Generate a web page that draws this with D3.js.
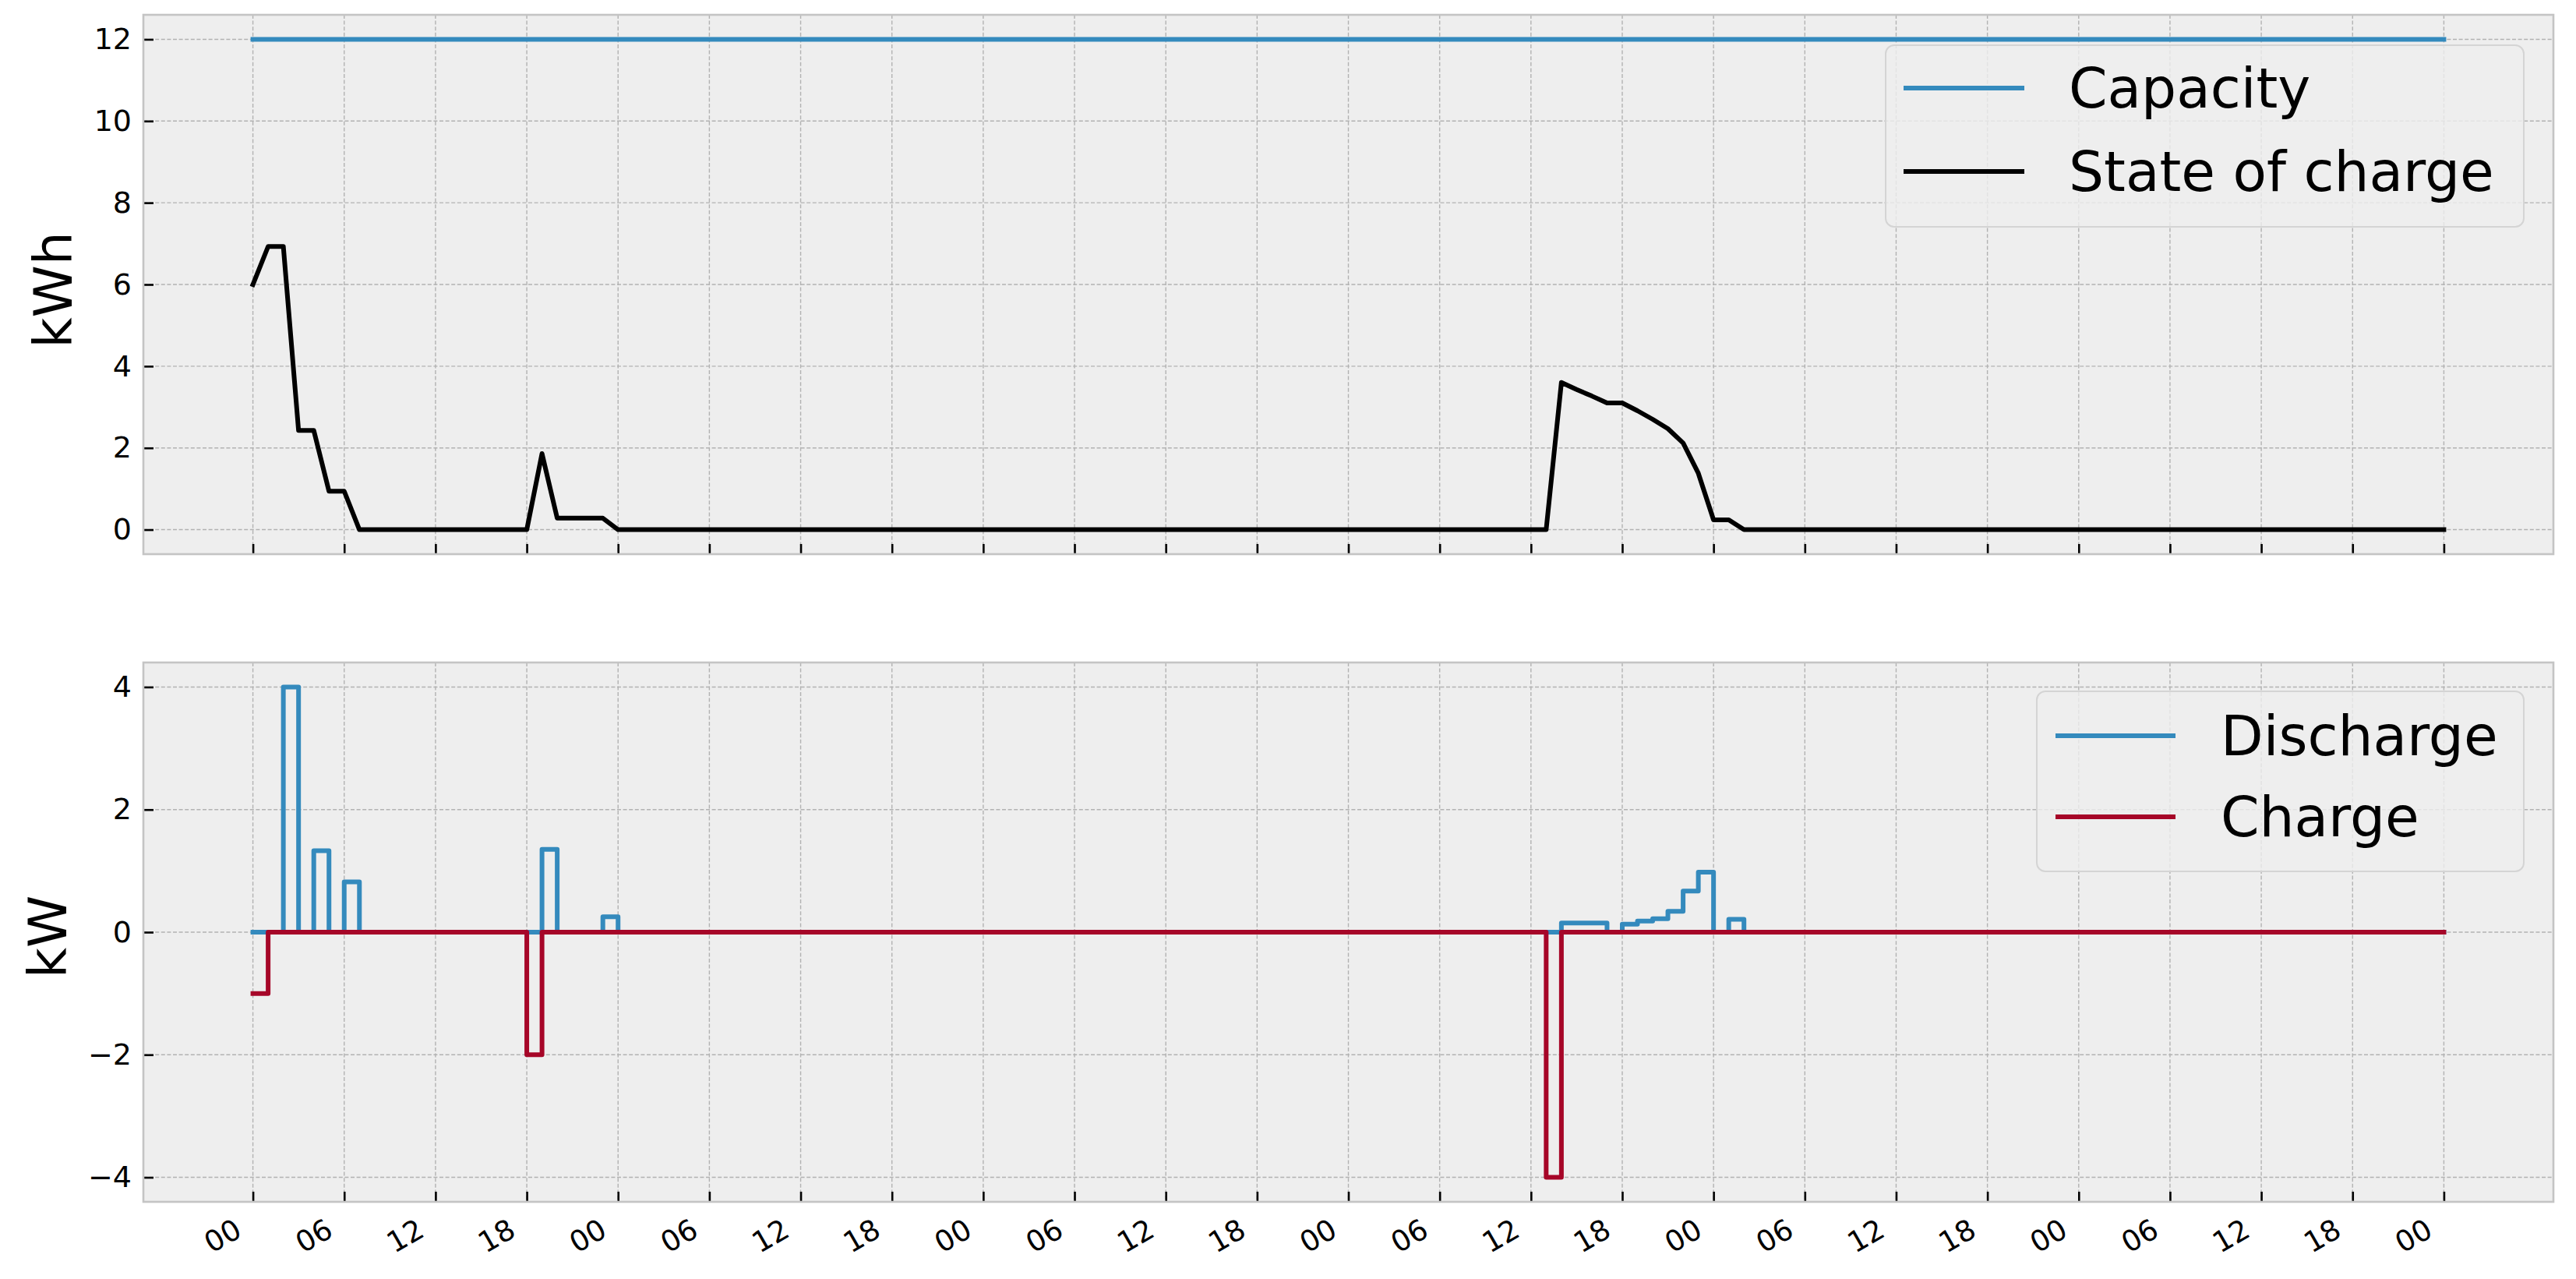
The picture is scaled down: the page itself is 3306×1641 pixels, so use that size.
<!DOCTYPE html>
<html><head><meta charset="utf-8">
<script src="https://cdn.jsdelivr.net/npm/d3@7"></script>
<style>body{margin:0;background:#fff}svg{display:block}</style>
</head><body><svg id="c" width="3306" height="1641"></svg>
<script>
// ---------- data (hourly, hours 0..144 over six days) ----------
const xTickHours  = [0,6,12,18,24,30,36,42,48,54,60,66,72,78,84,90,96,102,108,114,120,126,132,138,144];
const xTickLabels = ["00","06","12","18","00","06","12","18","00","06","12","18","00","06","12","18","00","06","12","18","00","06","12","18","00"];

const topTicks      = [0,2,4,6,8,10,12];
const topTickLabels = ["0","2","4","6","8","10","12"];
const botTicks      = [-4,-2,0,2,4];
const botTickLabels = ["\u22124","\u22122","0","2","4"];

const capacityKWh = 12;

// state of charge (kWh) at each hour
const stateOfCharge = [
  6.0,6.93,6.93,2.43,2.43,0.94,0.94,0,0,0,0,0,0,0,0,0,0,0,0,1.86,0.28,0.28,0.28,0.28,
  0,0,0,0,0,0,0,0,0,0,0,0,0,0,0,0,0,0,0,0,0,0,0,0,
  0,0,0,0,0,0,0,0,0,0,0,0,0,0,0,0,0,0,0,0,0,0,0,0,
  0,0,0,0,0,0,0,0,0,0,0,0,0,0,3.60,3.43,3.27,3.10,3.10,2.91,2.70,2.47,2.12,1.38,
  0.24,0.24,0,0,0,0,0,0,0,0,0,0,0,0,0,0,0,0,0,0,0,0,0,0,
  0,0,0,0,0,0,0,0,0,0,0,0,0,0,0,0,0,0,0,0,0,0,0,0,
  0
];
// discharge power (kW) for each hour interval
const discharge = [
  0,0,4.0,0,1.33,0,0.82,0,0,0,0,0,0,0,0,0,0,0,0,1.35,0,0,0,0.25,
  0,0,0,0,0,0,0,0,0,0,0,0,0,0,0,0,0,0,0,0,0,0,0,0,
  0,0,0,0,0,0,0,0,0,0,0,0,0,0,0,0,0,0,0,0,0,0,0,0,
  0,0,0,0,0,0,0,0,0,0,0,0,0,0,0.15,0.15,0.15,0,0.13,0.18,0.22,0.34,0.67,0.98,
  0,0.21,0,0,0,0,0,0,0,0,0,0,0,0,0,0,0,0,0,0,0,0,0,0,
  0,0,0,0,0,0,0,0,0,0,0,0,0,0,0,0,0,0,0,0,0,0,0,0,
  0
];
// charge power (kW, negative) for each hour interval
const charge = [
  -1,0,0,0,0,0,0,0,0,0,0,0,0,0,0,0,0,0,-2,0,0,0,0,0,
  0,0,0,0,0,0,0,0,0,0,0,0,0,0,0,0,0,0,0,0,0,0,0,0,
  0,0,0,0,0,0,0,0,0,0,0,0,0,0,0,0,0,0,0,0,0,0,0,0,
  0,0,0,0,0,0,0,0,0,0,0,0,0,-4,0,0,0,0,0,0,0,0,0,0,
  0,0,0,0,0,0,0,0,0,0,0,0,0,0,0,0,0,0,0,0,0,0,0,0,
  0,0,0,0,0,0,0,0,0,0,0,0,0,0,0,0,0,0,0,0,0,0,0,0,
  0
];

// ---------- layout ----------
const FONT = "'DejaVu Sans', sans-serif";
const BLUE = "#348ABD", RED = "#A60628";
const L = 184, R = 3277;
const panels = {
  top: {y0: 19,  y1: 711},
  bot: {y0: 850, y1: 1542}
};
const LW = 6;

const svg = d3.select("#c");
const x = d3.scaleLinear().domain([-7.2, 151.2]).range([L, R]);
const yTop = d3.scaleLinear().domain([-0.6, 12.6]).range([panels.top.y1, panels.top.y0]);
const yBot = d3.scaleLinear().domain([-4.4, 4.4]).range([panels.bot.y1, panels.bot.y0]);

function drawPanel(p, y, ticks) {
  const g = svg.append("g");
  g.append("rect").attr("x", L).attr("y", p.y0).attr("width", R - L).attr("height", p.y1 - p.y0)
    .attr("fill", "#eeeeee");
  const grid = g.append("g").attr("stroke", "#b2b2b2").attr("stroke-width", 1.4)
    .attr("stroke-dasharray", "5,2.6");
  grid.selectAll(".vx").data(xTickHours).join("line")
    .attr("x1", d => x(d)).attr("x2", d => x(d)).attr("y1", p.y0).attr("y2", p.y1);
  grid.selectAll(".hy").data(ticks).join("line")
    .attr("x1", L).attr("x2", R).attr("y1", d => y(d)).attr("y2", d => y(d));
  return g;
}

function drawAxes(p, y, ticks, tickLabels) {
  const ay = svg.append("g").attr("transform", `translate(${L},0)`)
    .call(d3.axisLeft(y).tickValues(ticks).tickSizeInner(-13).tickSizeOuter(0).tickPadding(15)
      .tickFormat((d, i) => tickLabels[i]));
  ay.select(".domain").remove();
  ay.selectAll(".tick line").attr("stroke", "#000").attr("stroke-width", 2.6);
  ay.selectAll(".tick text").attr("font-family", FONT).attr("font-size", 38).attr("fill", "#000");
  const ax = svg.append("g").attr("transform", `translate(0,${p.y1})`)
    .call(d3.axisBottom(x).tickValues(xTickHours).tickSizeInner(-13).tickSizeOuter(0).tickFormat(""));
  ax.select(".domain").remove();
  ax.selectAll(".tick line").attr("stroke", "#000").attr("stroke-width", 2.6);
  svg.append("rect").attr("x", L).attr("y", p.y0).attr("width", R - L).attr("height", p.y1 - p.y0)
    .attr("fill", "none").attr("stroke", "#c4c4c4").attr("stroke-width", 2.6);
}

function legend(box, items, hx0, hx1, tx, rows) {
  const g = svg.append("g");
  g.append("rect").attr("x", box[0]).attr("y", box[1]).attr("width", box[2] - box[0]).attr("height", box[3] - box[1])
    .attr("rx", 11).attr("ry", 11).attr("fill", "#eeeeee").attr("fill-opacity", 0.8)
    .attr("stroke", "#d4d4d4").attr("stroke-width", 2);
  items.forEach((it, i) => {
    g.append("line").attr("x1", hx0).attr("x2", hx1).attr("y1", rows[i]).attr("y2", rows[i])
      .attr("stroke", it.color).attr("stroke-width", LW);
    g.append("text").attr("x", tx).attr("y", rows[i] + 25).attr("font-family", FONT)
      .attr("font-size", 71).attr("fill", "#000").text(it.label);
  });
}

// ---------- top panel ----------
const hours = stateOfCharge.map((_, i) => i);
drawPanel(panels.top, yTop, topTicks);
const lineTop = d3.line().x(d => x(d[0])).y(d => yTop(d[1]));
svg.append("path").datum([[0, capacityKWh], [144, capacityKWh]]).attr("d", lineTop)
  .attr("fill", "none").attr("stroke", BLUE).attr("stroke-width", LW).attr("stroke-linecap", "square");
svg.append("path").datum(hours.map(h => [h, stateOfCharge[h]])).attr("d", lineTop)
  .attr("fill", "none").attr("stroke", "#000").attr("stroke-width", LW)
  .attr("stroke-linejoin", "round").attr("stroke-linecap", "square");
drawAxes(panels.top, yTop, topTicks, topTickLabels);
legend([2420, 58, 3239, 291], [{label: "Capacity", color: BLUE}, {label: "State of charge", color: "#000"}],
  2443, 2598, 2655, [113, 220]);

// ---------- bottom panel ----------
drawPanel(panels.bot, yBot, botTicks);
const lineBot = d3.line().curve(d3.curveStepAfter).x(d => x(d[0])).y(d => yBot(d[1]));
svg.append("path").datum(hours.map(h => [h, discharge[h]])).attr("d", lineBot)
  .attr("fill", "none").attr("stroke", BLUE).attr("stroke-width", LW)
  .attr("stroke-linejoin", "round").attr("stroke-linecap", "square");
svg.append("path").datum(hours.map(h => [h, charge[h]])).attr("d", lineBot)
  .attr("fill", "none").attr("stroke", RED).attr("stroke-width", LW)
  .attr("stroke-linejoin", "round").attr("stroke-linecap", "square");
drawAxes(panels.bot, yBot, botTicks, botTickLabels);
legend([2614, 887, 3239, 1118], [{label: "Discharge", color: BLUE}, {label: "Charge", color: RED}],
  2638, 2792, 2850, [944, 1048]);

// rotated x tick labels
svg.append("g").selectAll("text").data(xTickHours).join("text")
  .attr("transform", d => `translate(${x(d) - 12},${panels.bot.y1 + 43}) rotate(-30)`)
  .attr("text-anchor", "end").attr("font-family", FONT).attr("font-size", 37).attr("fill", "#000")
  .text((d, i) => xTickLabels[i]);

// y labels
svg.append("text").attr("transform", `translate(92,${(panels.top.y0 + panels.top.y1) / 2 + 7}) rotate(-90)`)
  .attr("text-anchor", "middle").attr("font-family", FONT).attr("font-size", 68).attr("fill", "#000").text("kWh");
svg.append("text").attr("transform", `translate(85,${(panels.bot.y0 + panels.bot.y1) / 2 + 6}) rotate(-90)`)
  .attr("text-anchor", "middle").attr("font-family", FONT).attr("font-size", 68).attr("fill", "#000").text("kW");
</script></body></html>
